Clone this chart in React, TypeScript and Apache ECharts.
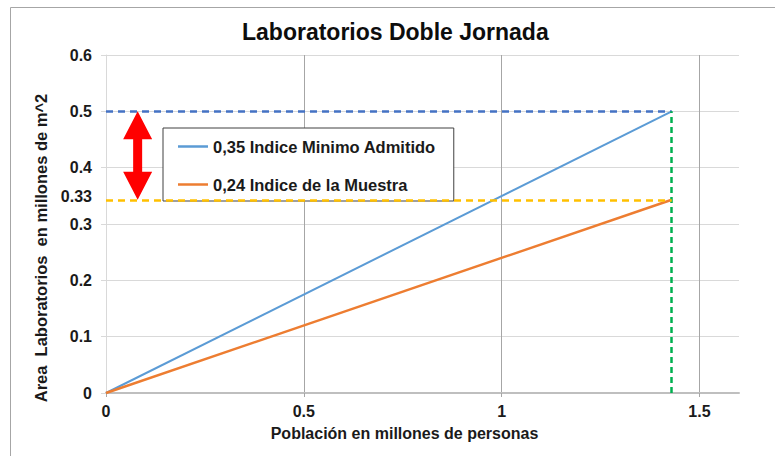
import React, { useEffect, useRef } from "react";
import * as echarts from "echarts";

const titleText = "Laboratorios Doble Jornada";
const xAxisName = "Población en millones de personas";
const yAxisName = "Area  Laboratorios  en millones de m^2";

const seriesNames = ["0,35 Indice Minimo Admitido", "0,24 Indice de la Muestra"];
const xValues = [0, 1.43];
const minimoValues = [0, 0.5];
const muestraValues = [0, 0.343];

const xTicks = [0, 0.5, 1, 1.5];
const yMarkLabel = "0.33";
const arrowX = 0.08;

const FONT = '"Liberation Sans", Arial, sans-serif';

export default function App() {
  const ref = useRef<HTMLDivElement>(null);
  useEffect(() => {
    if (!ref.current) return;
    const chart = echarts.init(ref.current, null, { renderer: "svg" });
    const xEnd = xValues[xValues.length - 1];
    const yTop = minimoValues[minimoValues.length - 1];
    const ySample = muestraValues[muestraValues.length - 1];

    const renderArrow = (params: any, api: any) => {
      const x = api.value(0);
      const top = api.coord([x, api.value(1)]);
      const bot = api.coord([x, api.value(2)]);
      const cx = top[0];
      const hw = 14.5;
      const hl = 28;
      const sw = 4.5;
      return {
        type: "polygon",
        shape: {
          points: [
            [cx, top[1]],
            [cx + hw, top[1] + hl],
            [cx + sw, top[1] + hl],
            [cx + sw, bot[1] - hl],
            [cx + hw, bot[1] - hl],
            [cx, bot[1]],
            [cx - hw, bot[1] - hl],
            [cx - sw, bot[1] - hl],
            [cx - sw, top[1] + hl],
            [cx - hw, top[1] + hl],
          ],
        },
        style: { fill: "#ff0000" },
      };
    };

    chart.setOption({
      animation: false,
      textStyle: { fontFamily: FONT },
      title: {
        text: titleText,
        left: 237,
        top: 15,
        textStyle: { fontFamily: FONT, fontSize: 23, fontWeight: "bold", color: "#0d0d0d" },
      },
      graphic: [
        {
          type: "rect",
          shape: { x: 10.5, y: 7.5, width: 800, height: 500 },
          style: { fill: "none", stroke: "#a6a6a6", lineWidth: 1 },
          silent: true,
          z: -10,
        },
      ],
      legend: {
        data: seriesNames,
        orient: "vertical",
        left: 163,
        top: 128,
        padding: [10, 18, 8, 15],
        itemGap: 21,
        itemWidth: 30,
        itemHeight: 2.5,
        icon: "rect",
        borderColor: "#404040",
        borderWidth: 1,
        backgroundColor: "#ffffff",
        textStyle: { fontFamily: FONT, fontSize: 16.5, fontWeight: "bold", color: "#1a1a1a" },
      },
      grid: { left: 106, right: 36, top: 55, bottom: 63 },
      xAxis: {
        type: "value",
        min: 0,
        max: 1.6,
        interval: 0.5,
        name: xAxisName,
        nameLocation: "middle",
        nameGap: 32,
        nameTextStyle: { fontFamily: FONT, fontSize: 16, fontWeight: "bold", color: "#1a1a1a", padding: [0, 36, 0, 0] },
        axisLine: { show: true, lineStyle: { color: "#bfbfbf", width: 2 } },
        axisTick: { show: true, length: 4, customValues: xTicks, lineStyle: { color: "#a6a6a6" } },
        axisLabel: {
          customValues: xTicks,
          margin: 10,
          fontFamily: FONT,
          fontSize: 16,
          fontWeight: "bold",
          color: "#1a1a1a",
          formatter: (v: number) => String(v),
        },
        splitLine: { show: true, lineStyle: { color: "#a6a6a6", width: 1 } },
      },
      yAxis: {
        type: "value",
        min: 0,
        max: 0.6,
        interval: 0.1,
        name: yAxisName,
        nameLocation: "middle",
        nameGap: 57,
        nameTextStyle: { fontFamily: FONT, fontSize: 16.5, fontWeight: "bold", color: "#1a1a1a", padding: [0, 48, 0, 0] },
        axisLine: { show: true, lineStyle: { color: "#d9d9d9", width: 1 } },
        axisTick: { show: true, length: 5, lineStyle: { color: "#d9d9d9" } },
        axisLabel: {
          margin: 14,
          fontFamily: FONT,
          fontSize: 16,
          fontWeight: "bold",
          color: "#1a1a1a",
          formatter: (v: number) => String(Math.round(v * 10) / 10),
        },
        splitLine: { show: true, lineStyle: { color: "#d9d9d9", width: 1 } },
      },
      series: [
        {
          name: seriesNames[0],
          type: "line",
          data: xValues.map((x, i) => [x, minimoValues[i]]),
          symbol: "none",
          clip: false,
          lineStyle: { color: "#5b9bd5", width: 2 },
          itemStyle: { color: "#5b9bd5" },
          z: 3,
          markLine: {
            silent: true,
            symbol: "none",
            label: { show: false },
            data: [
              [
                { coord: [0, yTop], lineStyle: { color: "#4472c4", width: 2.5, type: [7, 5] } },
                { coord: [xEnd, yTop] },
              ],
              [
                { coord: [xEnd, 0], lineStyle: { color: "#00b050", width: 2.5, type: [6, 4] } },
                { coord: [xEnd, yTop] },
              ],
            ],
          },
        },
        {
          name: seriesNames[1],
          type: "line",
          data: xValues.map((x, i) => [x, muestraValues[i]]),
          symbol: "none",
          clip: false,
          lineStyle: { color: "#ed7d31", width: 2.5 },
          itemStyle: { color: "#ed7d31" },
          z: 3,
          markLine: {
            silent: true,
            symbol: "none",
            data: [
              [
                {
                  coord: [0, ySample],
                  lineStyle: { color: "#ffc000", width: 2.5, type: [7, 5] },
                  label: {
                    show: true,
                    position: "start",
                    formatter: yMarkLabel,
                    distance: 14,
                    fontFamily: FONT,
                    fontSize: 16,
                    fontWeight: "bold",
                    color: "#1a1a1a",
                    offset: [0, -3],
                  },
                },
                { coord: [xEnd, ySample] },
              ],
            ],
          },
        },
        {
          name: "arrow",
          type: "custom",
          data: [[arrowX, yTop, ySample]],
          renderItem: renderArrow,
          clip: false,
          silent: true,
          z: 5,
        },
      ],
    });
    return () => chart.dispose();
  }, []);
  return (
    <div style={{ position: "fixed", left: 0, top: 0, width: 775, height: 456, background: "#fff" }}>
      <div ref={ref} style={{ width: 775, height: 456 }} />
    </div>
  );
}
